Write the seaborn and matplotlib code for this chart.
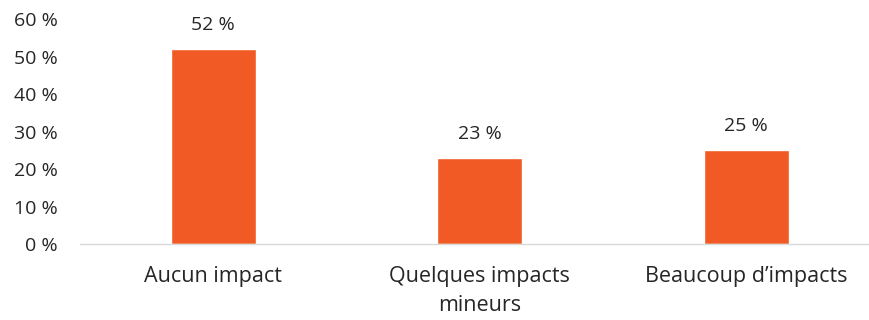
import matplotlib
matplotlib.use("Agg")
import matplotlib.pyplot as plt
import seaborn as sns
import pandas as pd

categories = ["Aucun impact", "Quelques impacts\nmineurs", "Beaucoup d\u2019impacts"]
values = [52, 23, 25]
yticks = [0, 10, 20, 30, 40, 50, 60]

df = pd.DataFrame({"cat": categories, "val": values})

sns.set_style("white")
plt.rcParams["font.family"] = ["Open Sans", "DejaVu Sans"]

fig = plt.figure(figsize=(8.69, 3.2), dpi=100)
ax = fig.add_axes([0.092, 0.2375, 0.92, 0.7025])
sns.barplot(data=df, x="cat", y="val", color="#F15A24", width=0.32, saturation=1, ax=ax)

for i, v in enumerate(values):
    ax.text(i, v + 4, f"{v} %", ha="center", va="bottom", fontsize=14, color="#262626")

ax.set_ylim(0, 60)
ax.set_yticks(yticks)
ax.set_yticklabels([f"{t} %" for t in yticks])
ax.tick_params(axis="both", colors="#262626", length=0)
ax.tick_params(axis="y", pad=16, labelsize=14)
ax.tick_params(axis="x", pad=16, labelsize=15.5)
for lbl in ax.get_xticklabels():
    lbl.set_linespacing(1.5)
ax.set_xlabel("")
ax.set_ylabel("")
for s in ["top", "right", "left"]:
    ax.spines[s].set_visible(False)
ax.spines["bottom"].set_color("#D9D9D9")
ax.spines["bottom"].set_linewidth(1)
ax.set_xlim(-0.5, 2.5)

fig.savefig("out.png", dpi=100)
